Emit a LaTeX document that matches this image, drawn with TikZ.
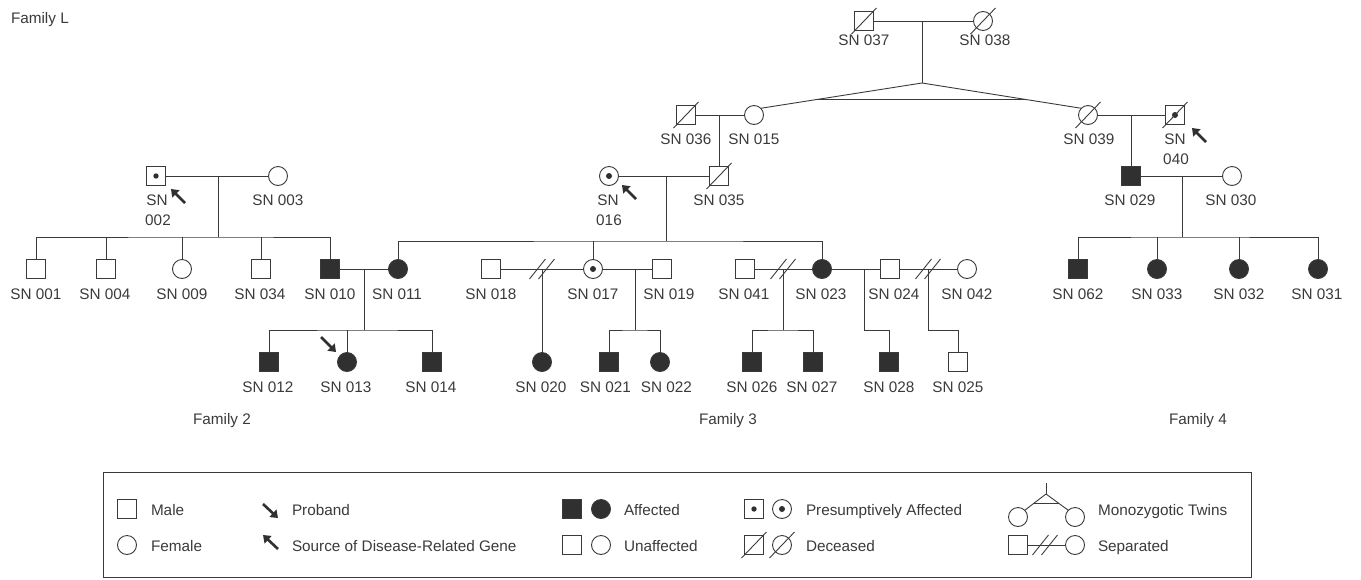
\documentclass[tikz,border=0pt]{standalone}
\usepackage{fontspec}
\setmainfont{Liberation Sans}
\usetikzlibrary{arrows.meta,calc}
\definecolor{ink}{HTML}{3A3A3A}
\definecolor{fillc}{HTML}{303030}
\begin{document}
\begin{tikzpicture}[x=1pt,y=-1pt,
  every node/.style={inner sep=0pt, outer sep=0pt},
  line/.style={draw=ink, line width=0.9pt},
  male/.style={rectangle, draw=ink, line width=0.9pt, minimum size=19pt, fill=white},
  female/.style={circle, draw=ink, line width=0.9pt, minimum size=19pt, fill=white},
  aff/.style={fill=fillc},
  lbl/.style={anchor=base, font=\fontsize{15.3}{18}\selectfont, text=ink},
  lgd/.style={anchor=base west, font=\fontsize{15.3}{18}\selectfont, text=ink},
  arr/.style={draw=fillc, line width=2.6pt, -{Triangle[length=7pt,width=10pt]}},
  dotc/.style={fill=fillc},
]
\useasboundingbox (0,0) rectangle (1361,579);

% ---------- persons ----------
% generation I
\node[male]   (p037) at (864,21) {};
\node[female] (p038) at (983,21) {};
% generation II
\node[male]   (p036) at (686,115) {};
\node[female] (p015) at (754,115) {};
\node[female] (p039) at (1088,115) {};
\node[male]   (p040) at (1175,115) {};
% generation II (second row)
\node[male]   (p002) at (156,176) {};
\node[female] (p003) at (278,176) {};
\node[female] (p016) at (609,176) {};
\node[male]   (p035) at (719,176) {};
\node[male,aff]   (p029) at (1131,176) {};
\node[female] (p030) at (1232,176) {};
% generation III
\node[male]   (p001) at (36,269) {};
\node[male]   (p004) at (106,269) {};
\node[female] (p009) at (182,269) {};
\node[male]   (p034) at (261,269) {};
\node[male,aff]   (p010) at (330,269) {};
\node[female,aff] (p011) at (398,269) {};
\node[male]   (p018) at (491,269) {};
\node[female] (p017) at (593,269) {};
\node[male]   (p019) at (662,269) {};
\node[male]   (p041) at (745,269) {};
\node[female,aff] (p023) at (822,269) {};
\node[male]   (p024) at (890,269) {};
\node[female] (p042) at (967,269) {};
\node[male,aff]   (p062) at (1078,269) {};
\node[female,aff] (p033) at (1157,269) {};
\node[female,aff] (p032) at (1239,269) {};
\node[female,aff] (p031) at (1318,269) {};
% generation IV
\node[male,aff]   (p012) at (269,362) {};
\node[female,aff] (p013) at (347,362) {};
\node[male,aff]   (p014) at (432,362) {};
\node[female,aff] (p020) at (542,362) {};
\node[male,aff]   (p021) at (609,362) {};
\node[female,aff] (p022) at (660,362) {};
\node[male,aff]   (p026) at (752,362) {};
\node[male,aff]   (p027) at (813,362) {};
\node[male,aff]   (p028) at (889,362) {};
\node[male]   (p025) at (958,362) {};

% dots (presumptively affected)
\fill[dotc] (p002) circle[radius=2.7pt];
\fill[dotc] (p016) circle[radius=3pt];
\fill[dotc] (p017) circle[radius=3pt];
\fill[dotc] (p040) circle[radius=3pt];
% deceased slashes
\foreach \n in {p037,p038,p036,p039,p040,p035}
  \draw[line] ($(\n)+(-12.5,13)$) -- ($(\n)+(12.5,-13)$);

% ---------- labels ----------
\node[lbl] (l037) at (864,45.5) {SN 037};
\node[lbl] (l038) at (985,45.5) {SN 038};
\node[lbl] (l036) at (686,144.5) {SN 036};
\node[lbl] (l015) at (754,144.5) {SN 015};
\node[lbl] (l039) at (1089,144.5) {SN 039};
\node[lbl] (l040a) at (1175,144.5) {SN};
\node[lbl] (l040b) at (1176,164.5) {040};
\node[lbl] (l002a) at (157,205) {SN};
\node[lbl] (l002b) at (158,225.5) {002};
\node[lbl] (l003) at (278,205) {SN 003};
\node[lbl] (l016a) at (608,205) {SN};
\node[lbl] (l016b) at (609,225.5) {016};
\node[lbl] (l035) at (719,205) {SN 035};
\node[lbl] (l029) at (1130,205) {SN 029};
\node[lbl] (l030) at (1231,205) {SN 030};
\foreach \n/\x in {001/36,004/105,009/182,034/260,010/330,011/397,018/491,017/593,019/669,041/744,023/821,024/894,042/967,062/1078,033/1157,032/1239,031/1317}
  \node[lbl] (l\n) at (\x,299.5) {SN \n};
\foreach \n/\x in {012/268,013/346,014/431,020/541,021/605.5,022/666.5,026/752,027/812,028/889,025/958}
  \node[lbl] (l\n) at (\x,392) {SN \n};

\node[lgd] (famL) at (11,23.5) {Family L};
\node[lbl] (fam2) at (222,424.5) {Family 2};
\node[lbl] (fam3) at (728,424.5) {Family 3};
\node[lbl] (fam4) at (1198,424.5) {Family 4};

% ---------- connectors ----------
% generation I and twins
\draw[line] (p037) -- (p038);
\coordinate (t1) at (922,21);
\coordinate (tw) at (922,83);
\draw[line] (t1) -- (tw);
\draw[line] (tw) -- (p015.north east);
\draw[line] (tw) -- (p039.north west);
\draw[line] ($(tw)!0.65!(p015.north east)$) -- ($(tw)!0.65!(p039.north west)$);
% SN036 x SN015
\draw[line] (p036) -- (p015);
\coordinate (m1) at (719,115);
\draw[line] (m1) -- (p035);
% SN016 x SN035
\draw[line] (p016) -- (p035);
\coordinate (m2) at (666,176);
\coordinate (s2) at (666,241);
\draw[line] (m2) -- (s2);
\draw[line] (p011) |- (s2) -| (p023);
\draw[line] (p017) -- (p017 |- s2);
% SN039 x SN040
\draw[line] (p039) -- (p040);
\coordinate (m3) at (1131,115);
\draw[line] (m3) -- (p029);
% SN029 x SN030
\draw[line] (p029) -- (p030);
\coordinate (m4) at (1182,176);
\coordinate (s4) at (1182,237);
\draw[line] (m4) -- (s4);
\draw[line] (p062) |- (s4) -| (p031);
\draw[line] (p033) -- (p033 |- s4);
\draw[line] (p032) -- (p032 |- s4);
% Family 2
\draw[line] (p002) -- (p003);
\coordinate (m5) at (218,176);
\coordinate (s5) at (218,237);
\draw[line] (m5) -- (s5);
\draw[line] (p001) |- (s5) -| (p010);
\draw[line] (p004) -- (p004 |- s5);
\draw[line] (p009) -- (p009 |- s5);
\draw[line] (p034) -- (p034 |- s5);
\draw[line] (p010) -- (p011);
\coordinate (m6) at (364,269);
\coordinate (s6) at (364,330);
\draw[line] (m6) -- (s6);
\draw[line] (p012) |- (s6) -| (p014);
\draw[line] (p013) -- (p013 |- s6);
% Family 3
\draw[line] (p018) -- (p017);
\coordinate (x1) at (542,269);
\draw[line] (x1) -- (p020);
\draw[line] (p017) -- (p019);
\coordinate (m7) at (635,269);
\coordinate (s7) at (635,330);
\draw[line] (m7) -- (s7);
\draw[line] (p021) |- (s7) -| (p022);
\draw[line] (p041) -- (p023);
\coordinate (x2) at (783,269);
\coordinate (s8) at (783,330);
\draw[line] (x2) -- (s8);
\draw[line] (p026) |- (s8) -| (p027);
\draw[line] (p023) -- (p024);
\coordinate (m9) at (864,269);
\coordinate (s9) at (864,330);
\draw[line] (m9) -- (s9) -| (p028);
\draw[line] (p024) -- (p042);
\coordinate (x3) at (928,269);
\coordinate (s10) at (928,330);
\draw[line] (x3) -- (s10) -| (p025);
% separation marks
\foreach \c in {x1,x2,x3}{
  \draw[line] ($(\c)+(-4.5-8,10)$) -- ($(\c)+(-4.5+8,-10)$);
  \draw[line] ($(\c)+(4.5-8,10)$) -- ($(\c)+(4.5+8,-10)$);
}

% arrows
\coordinate (a1s) at (185,203); \coordinate (a1e) at (171,189);
\draw[arr] (a1s) -- (a1e);
\coordinate (a2s) at (636,199); \coordinate (a2e) at (622,185);
\draw[arr] (a2s) -- (a2e);
\coordinate (a3s) at (1206,142); \coordinate (a3e) at (1192,128);
\draw[arr] (a3s) -- (a3e);
\coordinate (a4s) at (321,337); \coordinate (a4e) at (336,352);
\draw[arr] (a4s) -- (a4e);

% ---------- legend ----------
\node[draw=ink, line width=0.9pt, minimum width=1148pt, minimum height=105pt] (box) at (677,524.5) {};
\node[male]   (gm) at (127,509) {};
\node[female] (gf) at (127,545) {};
\node[lgd] (tm) at (151,515) {Male};
\node[lgd] (tf) at (151,551) {Female};
\coordinate (g1s) at (263,504); \coordinate (g1e) at (278,518);
\draw[arr] (g1s) -- (g1e);
\coordinate (g2s) at (278,549); \coordinate (g2e) at (263,535);
\draw[arr] (g2s) -- (g2e);
\node[lgd] (tp) at (292,515) {Proband};
\node[lgd] (ts) at (292,551) {Source of Disease-Related Gene};
\node[male,aff]   (gam) at (572,509) {};
\node[female,aff] (gaf) at (601,509) {};
\node[male]   (gum) at (572,545) {};
\node[female] (guf) at (601,545) {};
\node[lgd] (ta) at (624,515) {Affected};
\node[lgd] (tu) at (624,551) {Unaffected};
\node[male]   (gpm) at (754,509) {};
\node[female] (gpf) at (782,509) {};
\fill[dotc] (gpm) circle[radius=2.7pt];
\fill[dotc] (gpf) circle[radius=3pt];
\node[male]   (gdm) at (754,545) {};
\node[female] (gdf) at (782,545) {};
\draw[line] ($(gdm)+(-12.5,13)$) -- ($(gdm)+(12.5,-13)$);
\draw[line] ($(gdf)+(-12.5,13)$) -- ($(gdf)+(12.5,-13)$);
\node[lgd] (tpa) at (806,515) {Presumptively Affected};
\node[lgd] (tde) at (806,551) {Deceased};
% twins symbol
\node[female] (gt1) at (1018,517) {};
\node[female] (gt2) at (1075,517) {};
\coordinate (gtt) at (1046,483);
\coordinate (gta) at (1046,494);
\draw[line] (gtt) -- (gta);
\draw[line] (gta) -- (gt1.north east);
\draw[line] (gta) -- (gt2.north west);
\draw[line] ($(gta)!0.6!(gt1.north east)$) -- ($(gta)!0.6!(gt2.north west)$);
\node[lgd] (ttw) at (1098,515) {Monozygotic Twins};
% separated symbol
\node[male]   (gs1) at (1018,545) {};
\node[female] (gs2) at (1075,545) {};
\draw[line] (gs1) -- (gs2);
\coordinate (gx) at (1045,545);
\draw[line] ($(gx)+(-4.5-8,10)$) -- ($(gx)+(-4.5+8,-10)$);
\draw[line] ($(gx)+(4.5-8,10)$) -- ($(gx)+(4.5+8,-10)$);
\node[lgd] (tse) at (1098,551) {Separated};
\end{tikzpicture}
\end{document}
